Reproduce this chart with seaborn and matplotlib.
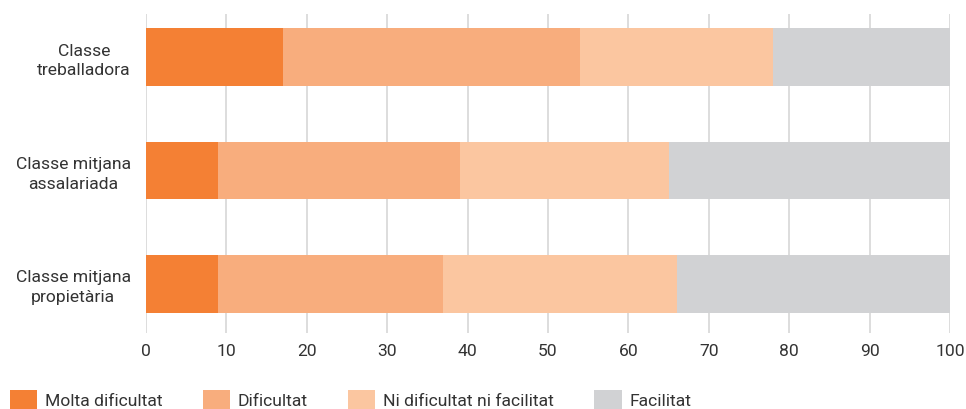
import matplotlib
matplotlib.use("Agg")
import matplotlib.pyplot as plt
import seaborn as sns
import pandas as pd
import numpy as np
from matplotlib.patches import Patch

categories = ["Classe\ntreballadora", "Classe mitjana\nassalariada", "Classe mitjana\npropietària"]
series_names = ["Molta dificultat", "Dificultat", "Ni dificultat ni facilitat", "Facilitat"]
molta_dificultat = [17, 9, 9]
dificultat = [37, 30, 28]
ni_dificultat_ni_facilitat = [24, 26, 29]
facilitat = [22, 35, 34]
colors = ["#F48034", "#F8AD7D", "#FBC6A0", "#D1D2D4"]
x_ticks = [0, 10, 20, 30, 40, 50, 60, 70, 80, 90, 100]

sns.set_theme(style="white")
plt.rcParams['font.family'] = ['Roboto', 'DejaVu Sans']

values = np.array([molta_dificultat, dificultat, ni_dificultat_ni_facilitat, facilitat], dtype=float)
cum = np.cumsum(values, axis=0)

fig = plt.figure(figsize=(9.66, 4.09), dpi=100)
ax = fig.add_axes([146/966, 1-333/409, (950-146)/966, (333-14)/409])

for i in range(len(series_names) - 1, -1, -1):
    df = pd.DataFrame({"cat": categories, "val": cum[i]})
    sns.barplot(data=df, x="val", y="cat", orient="h", color=colors[i],
                width=0.51, saturation=1, ax=ax, zorder=3, linewidth=0)

FS = 12.6
ax.set_xlim(0, 100)
ax.set_ylim(2.432, -0.379)
ax.set_xticks(x_ticks)
ax.set_xticklabels([str(t) for t in x_ticks])
ax.grid(axis="x", color="#DADADA", linewidth=1.3, zorder=0)
ax.grid(axis="y", visible=False)
for s in ax.spines.values():
    s.set_visible(False)
ax.set_xlabel("")
ax.set_ylabel("")
ax.tick_params(axis="both", length=0, labelsize=FS, colors="#333333")
ax.tick_params(axis="x", pad=8)
ax.tick_params(axis="y", pad=11)
for lbl in ax.get_yticklabels():
    lbl.set_horizontalalignment("right")
    lbl.set_multialignment("center")
    lbl.set_linespacing(1.4)

handles = [Patch(facecolor=c, edgecolor="none") for c in colors]
fig.legend(handles, series_names, loc="lower left", bbox_to_anchor=(10/966, -0.005),
           ncol=4, frameon=False, fontsize=FS, handlelength=1.55, handleheight=1.5,
           handletextpad=0.45, columnspacing=2.3, borderpad=0, borderaxespad=0,
           labelcolor="#333333")

fig.savefig("out.png", dpi=100)
